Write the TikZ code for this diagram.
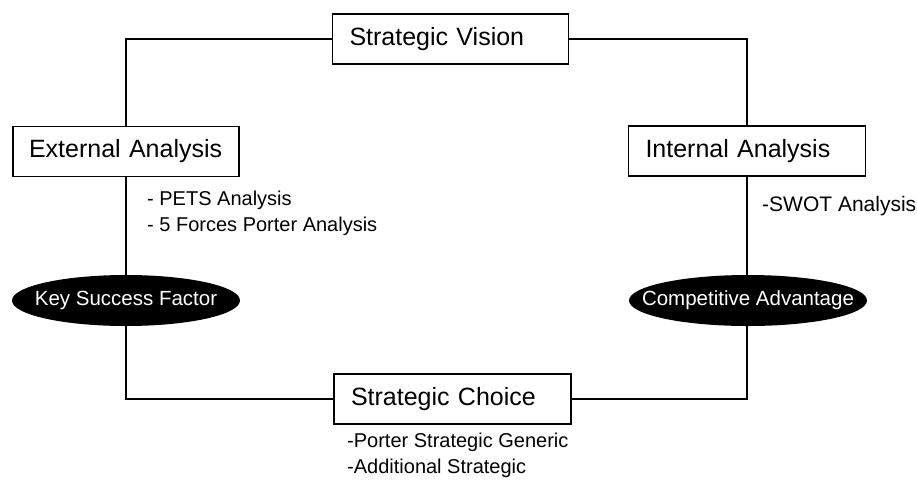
\documentclass[tikz,border=0pt]{standalone}
\usepackage{fontspec}
\setmainfont{Liberation Sans}
\usetikzlibrary{shapes.geometric}

\begin{document}
\begin{tikzpicture}[
   x=1pt,y=-1pt,
   every node/.style={font=\fontsize{20}{26}\selectfont},
   stage/.style={draw,line width=1.2pt,minimum height=50pt,inner xsep=17pt,align=left,font=\fontsize{25}{30}\selectfont},
   factor/.style={ellipse,fill=black,text=white,inner sep=0pt,minimum height=51pt,font=\fontsize{20.5}{24}\selectfont},
   note/.style={anchor=west,align=left,inner sep=0pt},
   link/.style={line width=1.2pt}]
\useasboundingbox (0,0) rectangle (917,480);
\node[stage,text width=202pt] (vision) at (450.5,39) {Strategic Vision};
\node[stage,text width=194pt,inner xsep=16pt] (external) at (126,151.5) {External Analysis};
\node[stage,text width=203pt] (internal) at (747,151) {Internal Analysis};
\node[stage,text width=203pt] (choice) at (452.5,399) {Strategic Choice};
\node[factor,minimum width=228pt] (ksf) at (126,300.5) {\makebox[0pt]{Key Success Factor}};
\node[factor,minimum width=238pt] (advantage) at (748,300.5) {\makebox[0pt]{Competitive Advantage}};
\node[note] (pets) at (147,213) {- PETS Analysis\\- 5 Forces Porter Analysis};
\node[note,font=\fontsize{21}{26}\selectfont] (swot) at (762,206) {-SWOT Analysis};
\node[note] (generic) at (347,455) {-Porter Strategic Generic\\-Additional Strategic};
\draw[link] (vision.west) -| (external.north);
\draw[link] (vision.east) -| (internal.north);
\draw[link] (external.south) -- (ksf.north);
\draw[link] (internal.south) -- (internal.south |- advantage.north);
\draw[link] (ksf.south) |- (choice.west);
\draw[link] (internal.south |- advantage.south) |- (choice.east);
\end{tikzpicture}
\end{document}
